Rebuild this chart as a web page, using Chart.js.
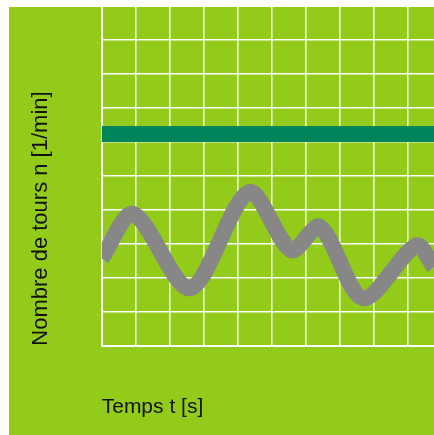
<!DOCTYPE html>
<html lang="fr">
<head>
    <meta charset="UTF-8">
    <title>Nombre de tours</title>
    <script src="https://cdn.jsdelivr.net/npm/chart.js"></script>
    <style>
        body {
            margin: 0;
            background: #ffffff;
        }
        #speedChart {
            display: block;
        }
    </style>
</head>
<body>

<canvas id="speedChart" width="434" height="435"></canvas>

<script>
    const speedTimes = [0, 0.93, 2.6, 4.33, 5.58, 6.42, 7.69, 9.26, 9.78];
    const speedValues = [2.57, 3.88, 1.69, 4.52, 2.81, 3.5, 1.4, 2.95, 2.32];

    // set point speed (flat line)
    const targetTimes = [0, 9.78];
    const targetValues = [6.23, 6.23];

    // grid positions (no labels are shown)
    const timeTicks = [0, 1, 2, 3, 4, 5, 6, 7, 8, 9];
    const speedTicks = [0, 1, 2, 3, 4, 5, 6, 7, 8, 9, 10];

    const xRange = [0, 9.78];
    const yRange = [0, 10];

    // green panel behind the plot
    const panelBackground = {
        id: 'panelBackground',
        beforeDraw(chart) {
            const ctx = chart.ctx;
            ctx.save();
            ctx.fillStyle = '#92cb19';
            ctx.fillRect(9, 7, chart.width - 9, chart.height - 7);
            ctx.restore();
        }
    };

    function toPoints(xs, ys) {
        return xs.map((x, i) => ({ x: x, y: ys[i] }));
    }

    function setTicks(values) {
        return function (scale) {
            scale.ticks = values.map(v => ({ value: v }));
        };
    }

    const ctx = document.getElementById('speedChart').getContext('2d');
    const speedChart = new Chart(ctx, {
        type: 'line',
        data: {
            datasets: [
                {
                    label: 'Consigne',
                    data: toPoints(targetTimes, targetValues),
                    borderColor: '#00845c',
                    borderWidth: 16,
                    borderCapStyle: 'butt',
                    pointRadius: 0,
                    clip: 0
                },
                {
                    label: 'n',
                    data: toPoints(speedTimes, speedValues),
                    borderColor: '#878787',
                    borderWidth: 16,
                    borderCapStyle: 'butt',
                    borderJoinStyle: 'round',
                    tension: 0.3,
                    pointRadius: 0,
                    clip: 0
                }
            ]
        },
        options: {
            responsive: false,
            animation: false,
            devicePixelRatio: 1,
            layout: {
                padding: { top: 6, left: 0, right: 0, bottom: 0 }
            },
            plugins: {
                legend: { display: false },
                tooltip: { enabled: false }
            },
            scales: {
                x: {
                    type: 'linear',
                    min: xRange[0],
                    max: xRange[1],
                    ticks: { display: false },
                    afterBuildTicks: setTicks(timeTicks),
                    grid: { color: '#ffffff', lineWidth: 1.5, drawTicks: false },
                    border: { color: '#ffffff', width: 2 },
                    title: {
                        display: true,
                        text: 'Temps t [s]',
                        align: 'start',
                        color: '#111111',
                        font: { family: '"Liberation Sans", Arial, sans-serif', size: 21 },
                        padding: { top: 0, bottom: 15 }
                    },
                    afterFit(scale) {
                        scale.height = 89.3;
                    }
                },
                y: {
                    min: yRange[0],
                    max: yRange[1],
                    ticks: { display: false },
                    afterBuildTicks: setTicks(speedTicks),
                    grid: { color: '#ffffff', lineWidth: 1.5, drawTicks: false },
                    border: { color: '#ffffff', width: 2 },
                    title: {
                        display: true,
                        text: 'Nombre de tours n [1/min]',
                        align: 'start',
                        color: '#111111',
                        font: { family: '"Liberation Sans", Arial, sans-serif', size: 22 },
                        padding: { top: 28, bottom: 0 }
                    },
                    afterFit(scale) {
                        scale.width = 101.7;
                    }
                }
            }
        },
        plugins: [panelBackground]
    });
</script>

</body>
</html>
